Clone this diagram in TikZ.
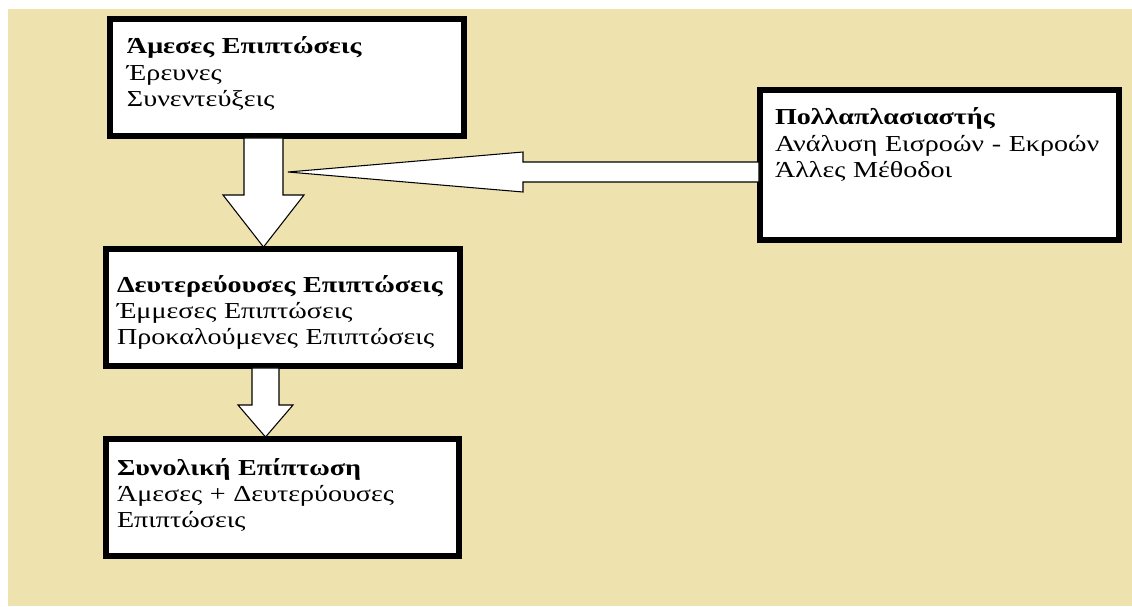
\documentclass[tikz,border=0pt]{standalone}
\usepackage{fontspec}
\setmainfont{Liberation Serif}[FakeStretch=1.23]
\usepackage{xcolor}
\usepackage{tikz}
\usetikzlibrary{positioning,calc}
\definecolor{paper}{RGB}{238,226,175}
\tikzset{
panel/.style={
draw=black,
line width=3.4pt,
fill=white,
anchor=north west,
align=left,
inner sep=0pt,
outer sep=0pt,
font=\fontsize{13}{14.9}\selectfont
},
blockarrow/.style={
draw=black,
line width=0.6pt,
fill=white,
line join=miter
}
}
\begin{document}
\begin{tikzpicture}[x=0.02cm,y=-0.02cm]
\useasboundingbox (0,0) rectangle (1132,606);
\fill[white] (0,0) rectangle (1132,606);
\fill[paper] (8,9) rectangle (1132,606);

% boxes
\node[panel,minimum width=7.08cm,text width=6.4cm,text height=0.7cm,text depth=1.64cm](dir) at (110,19)
{\textbf{Άμεσες Επιπτώσεις}\\Έρευνες\\Συνεντεύξεις};
\node[panel,minimum width=7.08cm,text width=6.64cm,text height=0.86cm,text depth=1.48cm](sec) at (106,249)
{\textbf{Δευτερεύουσες~Επιπτώσεις}\\Έμμεσες Επιπτώσεις\\Προκαλούμενες~Επιπτώσεις};
\node[panel,minimum width=7.06cm,text width=6.62cm,text height=0.72cm,text depth=1.62cm](tot) at (106,439)
{\textbf{Συνολική Επίπτωση}\\Άμεσες + Δευτερύουσες\\Επιπτώσεις};
\node[panel,minimum width=7.18cm,text width=6.58cm,text height=0.7cm,text depth=2.3cm](mult) at (760,90)
{\textbf{Πολλαπλασιαστής}\\Ανάλυση~Εισροών~-~Εκροών\\Άλλες Μέθοδοι};

% block arrows
\coordinate (d1) at ($(dir.south west)+(153.5,0)$);
\coordinate (d1tip) at (d1 |- sec.north);
\coordinate (d2) at ($(sec.south west)+(159.5,0)$);
\coordinate (d2tip) at (d2 |- tot.north);
\coordinate (l1) at ($(mult.north west)+(0,82)$);
\coordinate (l1x) at ($(d1)+(24.5,0)$);
\coordinate (l1tip) at (l1x |- l1);

\draw[blockarrow] ($(d1)+(-19.5,2)$) |- ($(d1tip)+(-40.5,-54)$) -- ($(d1tip)+(0,-2)$)
-- ($(d1tip)+(40.5,-54)$) -| ($(d1)+(19.5,2)$) -- cycle;
\draw[blockarrow] ($(d2)+(-13.5,2)$) |- ($(d2tip)+(-27.5,-34)$) -- ($(d2tip)+(0,-2)$)
-- ($(d2tip)+(27.5,-34)$) -| ($(d2)+(13.5,2)$) -- cycle;
\draw[blockarrow] ($(l1)+(-1,-10)$) -- ($(l1tip)+(235,-10)$) -- ++(0,-10) -- (l1tip)
-- ($(l1tip)+(235,20)$) -- ++(0,-10) -- ($(l1)+(-1,10)$) -- cycle;
\end{tikzpicture}
\end{document}
